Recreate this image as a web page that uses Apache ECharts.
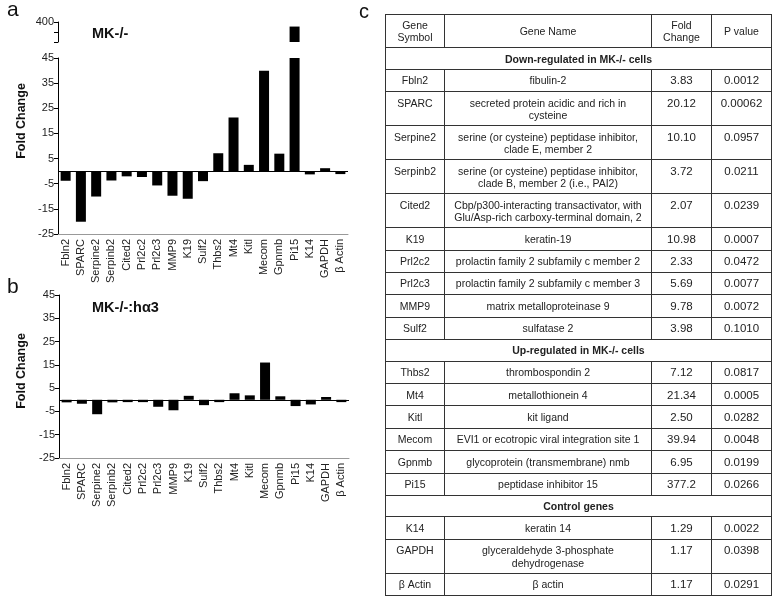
<!DOCTYPE html>
<html>
<head>
<meta charset="utf-8">
<script src="https://cdn.jsdelivr.net/npm/echarts@6/dist/echarts.min.js"></script>
<style>
  html, body { margin:0; padding:0; background:#fff; }
  #chart { position:absolute; left:0; top:0; width:780px; height:604px; }
  #tbl { position:absolute; left:385px; top:14px; width:386px; border-collapse:collapse; table-layout:fixed;
         font-family:"Liberation Sans", Arial, sans-serif; color:#222; }
  #tbl td { border:1px solid #333; text-align:center; padding:0; vertical-align:top; overflow:hidden; }
  #tbl td.nm { font-size:10.5px; line-height:12.3px; padding-top:4.5px; white-space:nowrap; }
  #tbl td.sym { font-size:10.5px; line-height:12.3px; padding-top:4.5px; }
  #tbl td.num { font-size:11.5px; line-height:12.3px; padding-top:4.5px; }
  #tbl td.hd { font-size:10.5px; line-height:12px; vertical-align:middle; }
  #tbl td.sec { font-size:10.5px; font-weight:bold; vertical-align:middle; }
</style>
</head>
<body>
<div id="chart"></div>
<table id="tbl"></table>
<script>
// ---- chart data ----
const categories = ['Fbln2','SPARC','Serpine2','Serpinb2','Cited2','Prl2c2','Prl2c3','MMP9','K19','Sulf2','Thbs2','Mt4','Kitl','Mecom','Gpnmb','Pi15','K14','GAPDH','β Actin'];
const foldMK = [-3.83,-20.12,-10.10,-3.72,-2.07,-2.33,-5.69,-9.78,-10.98,-3.98,7.12,21.34,2.50,39.94,6.95,377.2,-1.29,1.17,-1.17];
const foldMKha3 = [-1.1,-1.7,-6.2,-1.1,-1.0,-1.0,-3.0,-4.5,1.7,-2.3,-1.0,2.8,1.9,16.0,1.5,-2.7,-2.0,1.2,-1.0];
const yTicksLower = [-25,-15,-5,5,15,25,35,45];
const yTicksUpper = [400];

// ---- table data ----
const tblHeader = ['Gene<br>Symbol','Gene Name','Fold<br>Change','P value'];
const tblSections = ['Down-regulated in MK-/- cells','Up-regulated in MK-/- cells','Control genes'];
const tblSectionOf = [0,0,0,0,0,0,0,0,0,0,1,1,1,1,1,1,2,2,2];
const tblSymbols = ['Fbln2','SPARC','Serpine2','Serpinb2','Cited2','K19','Prl2c2','Prl2c3','MMP9','Sulf2','Thbs2','Mt4','Kitl','Mecom','Gpnmb','Pi15','K14','GAPDH','β Actin'];
const tblNames = ['fibulin-2','secreted protein acidic and rich in\ncysteine','serine (or cysteine) peptidase inhibitor,\nclade E, member 2','serine (or cysteine) peptidase inhibitor,\nclade B, member 2 (i.e., PAI2)','Cbp/p300-interacting transactivator, with\nGlu/Asp-rich carboxy-terminal domain, 2','keratin-19','prolactin family 2 subfamily c member 2','prolactin family 2 subfamily c member 3','matrix metalloproteinase 9','sulfatase 2','thrombospondin 2','metallothionein 4','kit ligand','EVI1 or ecotropic viral integration site 1','glycoprotein (transmembrane) nmb','peptidase inhibitor 15','keratin 14','glyceraldehyde 3-phosphate\ndehydrogenase','β actin'];
const tblFold = ['3.83','20.12','10.10','3.72','2.07','10.98','2.33','5.69','9.78','3.98','7.12','21.34','2.50','39.94','6.95','377.2','1.29','1.17','1.17'];
const tblP = ['0.0012','0.00062','0.0957','0.0211','0.0239','0.0007','0.0472','0.0077','0.0072','0.1010','0.0817','0.0005','0.0282','0.0048','0.0199','0.0266','0.0022','0.0398','0.0291'];

// build table
(function(){
  const t = document.getElementById('tbl');
  let html = '<colgroup><col style="width:59px"><col style="width:207px"><col style="width:60px"><col style="width:60px"></colgroup>';
  html += '<tr style="height:33.3px">' + tblHeader.map(h => '<td class="hd">'+h+'</td>').join('') + '</tr>';
  let cur = -1;
  for (let i = 0; i < tblSymbols.length; i++) {
    if (tblSectionOf[i] !== cur) {
      cur = tblSectionOf[i];
      html += '<tr style="height:21.5px"><td class="sec" colspan="4">' + tblSections[cur] + '</td></tr>';
    }
    const two = tblNames[i].indexOf('\n') >= 0;
    html += '<tr style="height:' + (two ? 34 : 22.4) + 'px">' +
      '<td class="sym">' + tblSymbols[i] + '</td>' +
      '<td class="nm">' + tblNames[i].replace('\n','<br>') + '</td>' +
      '<td class="num">' + tblFold[i] + '</td>' +
      '<td class="num">' + tblP[i] + '</td></tr>';
  }
  t.innerHTML = html;
})();

const FONT = 'Liberation Sans';
const chart = echarts.init(document.getElementById('chart'), null, {renderer:'canvas'});

function xAx(gi, show) {
  return {
    type:'category', gridIndex:gi, data:categories, show:show,
    axisTick:{show:false},
    axisLine:{show:true, onZero:false, lineStyle:{color:'#999', width:1}},
    axisLabel:{rotate:90, interval:0, fontSize:11, color:'#222', fontFamily:FONT, margin:5}
  };
}
function yAx(gi, min, max, interval, labels) {
  return {
    type:'value', gridIndex:gi, min:min, max:max, interval:interval,
    splitLine:{show:false},
    axisLine:{show:true, lineStyle:{color:'#000', width:1}},
    axisTick:{show:true, length:4, lineStyle:{color:'#000'}},
    axisLabel:{fontSize:11, color:'#222', fontFamily:FONT, margin:4,
      formatter: v => labels.indexOf(v) >= 0 ? String(v) : ''}
  };
}
const zeroLine = {silent:true, symbol:'none', label:{show:false},
  lineStyle:{color:'#000', width:1, type:'solid'}, data:[{yAxis:0}]};

chart.setOption({
  animation:false,
  grid:[
    {left:58, width:290, top:22, height:20},
    {left:58, width:290, top:58, height:176},
    {left:59, width:290, top:295, height:163}
  ],
  xAxis:[xAx(0,false), xAx(1,true), xAx(2,true)],
  yAxis:[yAx(0,300,400,50,yTicksUpper), yAx(1,-25,45,10,yTicksLower), yAx(2,-25,45,10,yTicksLower)],
  series:[
    {type:'bar', xAxisIndex:0, yAxisIndex:0, data:foldMK, barWidth:10, clip:true, itemStyle:{color:'#000'}},
    {type:'bar', xAxisIndex:1, yAxisIndex:1, data:foldMK, barWidth:10, clip:true, itemStyle:{color:'#000'}, markLine:zeroLine},
    {type:'bar', xAxisIndex:2, yAxisIndex:2, data:foldMKha3, barWidth:10, clip:true, itemStyle:{color:'#000'}, markLine:zeroLine}
  ],
  graphic:[
    {type:'text', left:7, top:0, style:{text:'a', fontSize:21, fontFamily:FONT, fill:'#111'}},
    {type:'text', left:7, top:277, style:{text:'b', fontSize:21, fontFamily:FONT, fill:'#111'}},
    {type:'text', left:359, top:2, style:{text:'c', fontSize:20, fontFamily:FONT, fill:'#111'}},
    {type:'text', left:92, top:26, style:{text:'MK-/-', fontSize:14.5, fontWeight:'bold', fontFamily:FONT, fill:'#111'}},
    {type:'text', left:92, top:300, style:{text:'MK-/-:hα3', fontSize:14.5, fontWeight:'bold', fontFamily:FONT, fill:'#111'}},
    {type:'text', x:22, y:121, rotation:Math.PI/2, style:{text:'Fold Change', fontSize:12.5, fontWeight:'bold', fontFamily:FONT, fill:'#111', align:'center', verticalAlign:'middle'}},
    {type:'text', x:22, y:371, rotation:Math.PI/2, style:{text:'Fold Change', fontSize:12.5, fontWeight:'bold', fontFamily:FONT, fill:'#111', align:'center', verticalAlign:'middle'}}
  ]
});
</script>
</body>
</html>
